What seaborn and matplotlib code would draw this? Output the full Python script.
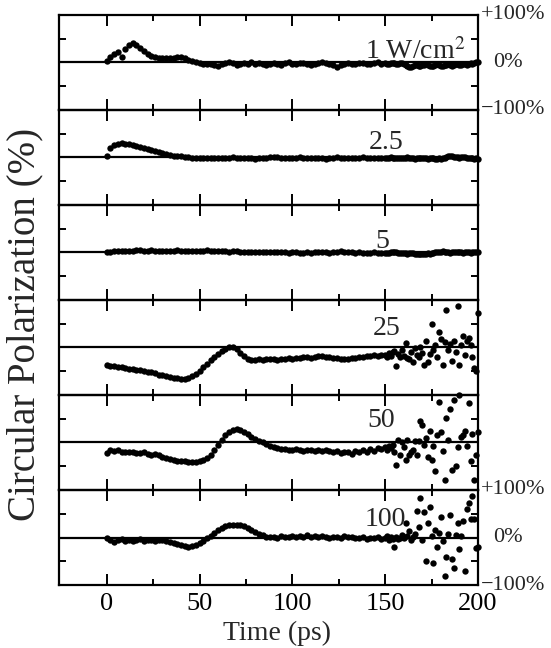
import numpy as np
import pandas as pd
import matplotlib.pyplot as plt
import seaborn as sns

# time grid: 2 ps steps up to 148 ps, 1 ps steps from 150 to 200 ps
t = np.concatenate([np.arange(0, 150, 2), np.arange(150, 201, 1)])

p1 = [2, 12, 18, 22, 12, 28, 36, 40, 36, 30, 24, 18, 14, 11, 10,
      10, 9, 10, 10, 11, 12, 10, 6, 3, 0, -2, -3, -3, -4, -6,
      -7, -4, -2, 1, -2, -5, -3, -1, -4, 0, -3, -2, -4, -6, -4,
      -2, -3, -5, -2, 0, -3, -4, -2, -1, -3, -5, -4, -2, 0, -2,
      -4, -5, -10, -6, -3, -2, -4, -3, -1, -2, -4, -3, -2, 0, -3,
      -2, -3, -4, -2, -1, -2, -3, -4, -2, -1,
      -3, -5, -8, -10, -9, -7, -6, -5, -7, -8,
      -6, -5, -4, -6, -7, -8, -7, -5, -4, -6,
      -7, -8, -6, -5, -4, -6, -7, -5, -4, -3,
      -5, -6, -4, -3, -5, -4, -2, -3, -1, 0, 1]

p2 = [2, 20, 26, 28, 30, 29, 28, 26, 24, 22, 20, 17, 15, 13, 11,
      9, 7, 5, 4, 3, 2, 1, 0, -1, -1, -2, -2, -1, -2, -2,
      -1, -2, -2, -1, 0, -1, -2, -2, -1, -2, -3, -2, -1, -1, 0,
      1, 0, -1, -2, -1, -2, -1, 0, -1, -2, -2, -1, -1, -2, -3,
      -2, -1, 0, -1, -2, -1, -2, -2, -1, 0, -1, -2, -1, -2, -1,
      -1, -2, -1, 0, -1, -2, -1, -1, -2, -1,
      -2, -1, 0, -1, -1, -2, -3, -2, -1, -1,
      -2, -1, -2, -3, -2, -1, -2, -3, -3, -2,
      -3, -2, -1, 0, 2, 3, 2, 1, 1, 0,
      -1, 0, 1, 0, -1, -2, -1, -2, -3, -2, -3]

p3 = [0, 1, 2, 2, 3, 3, 4, 4, 5, 5, 4, 4, 5, 4, 3,
      4, 4, 3, 4, 5, 4, 4, 3, 4, 4, 3, 4, 5, 4, 4,
      3, 2, 2, 1, 2, 2, 1, 1, 0, 1, 0, 1, 1, 0, 1,
      0, 0, 1, 0, -1, 0, 0, -1, -1, 0, -1, 0, 1, 0, 0,
      -1, 0, 1, 2, 1, 0, 0, -1, 0, -1, -2, -1, 0, -1, -1,
      -1, -2, -1, 0, 0, 1, 0, -1, -2, -2,
      -1, -2, -3, -2, -1, -2, -3, -3, -4, -3,
      -3, -4, -3, -2, -3, -2, -1, 0, 1, 0,
      1, 2, 1, 0, 0, -1, 0, 1, 0, 0,
      1, 0, -1, 0, 1, 0, -1, 0, 1, 0, 0]

p4 = [-36, -38, -40, -42, -41, -44, -46, -45, -48, -47, -50, -51, -52, -54, -57,
      -59, -61, -63, -64, -65, -66, -66, -64, -61, -56, -49, -42, -34, -27, -21,
      -14, -8, -3, 0, 0, -4, -11, -18, -24, -27, -26, -25, -26, -25, -24,
      -25, -26, -24, -25, -23, -24, -22, -23, -21, -20, -22, -20, -19, -18, -20,
      -21, -22, -23, -24, -25, -24, -23, -22, -20, -21, -18, -19, -16, -17, -15,
      -15, -20, -12, -18, -10, -8, -39, -14, -20, -5,
      -18, 9, -22, -25, -10, -30, -2, -15, -20, 2,
      -12, -36, 13, -31, -13, 50, -5, 5, -20, 33,
      17, -36, 12, 79, -5, 8, -29, 13, -10, 87,
      -36, 5, 24, -15, 13, 20, 6, -20, -43, -50, 73]

p5 = [-22, -15, -18, -16, -20, -19, -21, -20, -22, -23, -21, -24, -26, -25, -27,
      -30, -32, -34, -36, -38, -39, -40, -41, -42, -42, -40, -37, -32, -26, -15,
      -5, 6, 16, 23, 27, 28, 26, 22, 17, 12, 7, 3, 0, -4, -7,
      -10, -12, -14, -13, -15, -16, -14, -15, -17, -16, -15, -18, -16, -17, -15,
      -18, -20, -17, -22, -19, -21, -24, -18, -20, -16, -19, -14, -17, -12, -13,
      -10, -15, -8, -12, -5, -20, -47, 5, -26, 2,
      -10, -37, 6, -26, -21, -16, 4, -26, 3, 45,
      37, -5, 10, -30, 25, -37, -8, -61, 16, 86,
      23, -17, -79, 51, 5, 70, -58, 90, -49, -10,
      100, 12, 15, 25, -8, 84, -40, 18, -79, -26, 22]

p6 = [0, -5, -9, -6, -4, -7, -5, -8, -6, -4, -7, -6, -5, -8, -6,
      -6, -8, -10, -12, -14, -16, -18, -19, -18, -16, -12, -7, -2, 4, 10,
      15, 20, 24, 26, 27, 27, 26, 24, 20, 16, 12, 8, 5, 2, 1,
      2, 0, 3, 1, 2, 4, 1, 3, 2, 5, 2, 3, 1, 4, 2,
      0, 2, 1, -1, 3, 1, 2, -2, 0, 1, -3, -1, 0, 2, -4,
      -2, 3, -6, 1, -3, -20, 2, -4, 0, 5,
      -2, 30, 3, 13, -6, 2, 8, 56, 23, 83,
      -5, 53, -49, 30, 65, 4, -54, 16, -19, 9,
      44, -8, -81, -40, 8, 47, -45, -64, 6, 30,
      -25, 3, 35, -70, 60, 72, 38, 88, 40, -22, -19]

series = [p1, p2, p3, p4, p5, p6]
labels = ["1 W/cm$^2$", "2.5", "5", "25", "50", "100"]
label_pos = [(193, 8), (160, 18), (152, 10), (158, 27), (155, 32), (161, 25)]

sns.set_style("ticks")
plt.rcParams['font.family'] = ['Liberation Serif', 'DejaVu Serif']
plt.rcParams['mathtext.fontset'] = 'stix'

fig, axes = plt.subplots(6, 1, figsize=(5.51, 6.48), dpi=100, sharex=True)
fig.subplots_adjust(left=0.107, right=0.8675, top=0.977, bottom=0.0972, hspace=0)

for ax, vals, lab, (lx, ly) in zip(axes, series, labels, label_pos):
    df = pd.DataFrame({"time": t, "pol": vals})
    ax.patch.set_visible(False)
    ax.axhline(0, color="black", lw=1.6, zorder=1)
    sns.scatterplot(data=df, x="time", y="pol", ax=ax, color="black", s=21,
                    linewidth=0, clip_on=False, legend=False, zorder=3)
    ax.set_xlim(-25.7, 200)
    ax.set_ylim(-100, 100)
    ax.set_xticks([0, 50, 100, 150, 200])
    ax.set_xticks([25, 75, 125, 175], minor=True)
    ax.set_yticks([-50, 50])
    ax.set_yticklabels([])
    ax.set_xlabel("")
    ax.set_ylabel("")
    ax.tick_params(axis="x", which="major", direction="in", length=8, width=1.4,
                   color="black", top=True, bottom=True, labelsize=19, pad=6,
                   labelcolor="black")
    ax.tick_params(axis="x", which="minor", direction="in", length=4.3, width=1.4,
                   color="black", top=True, bottom=True)
    ax.tick_params(axis="y", direction="in", length=5, width=1.4, color="black",
                   left=True, right=True)
    for sp in ax.spines.values():
        sp.set_linewidth(1.6)
        sp.set_color("black")
        sp.set_visible(True)
    ax.text(lx, ly, lab, ha="right", va="baseline", fontsize=20)

for ax in (axes[0], axes[-1]):
    ax.text(1.006, 1.0, "+100%", transform=ax.transAxes, ha="left", va="center", fontsize=16)
    ax.text(1.035, 0.5, "0%", transform=ax.transAxes, ha="left", va="center", fontsize=16)
    ax.text(1.006, 0.0, "\u2212100%", transform=ax.transAxes, ha="left", va="center", fontsize=16)

fig.text(0.045, 0.5, "Circular Polarization (%)", rotation=90, ha="center", va="center",
         fontsize=28)
fig.text(0.502, 0.022, "Time (ps)", ha="center", va="center", fontsize=20)

fig.savefig("out.png", dpi=100)
